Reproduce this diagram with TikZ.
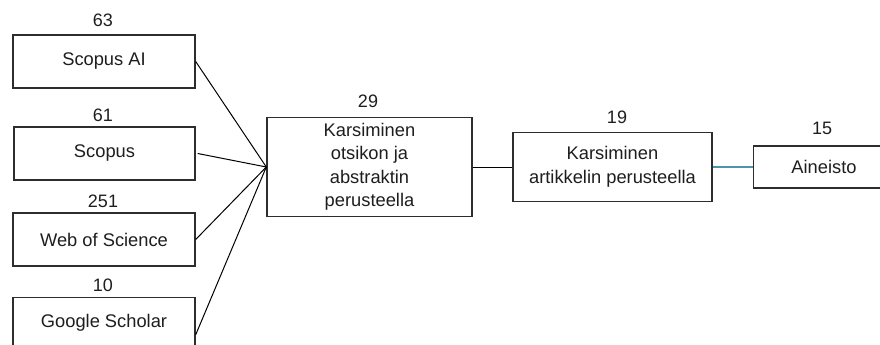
\documentclass[tikz,border=0pt]{standalone}
\usepackage{fontspec}
\setmainfont{Liberation Sans}
\definecolor{boxline}{RGB}{45,45,45}
\definecolor{tealline}{RGB}{78,146,176}
\definecolor{txt}{RGB}{30,30,30}
\begin{document}
\begin{tikzpicture}[x=1pt,y=-1pt,
  box/.style={draw=boxline,line width=1.4pt,fill=white,inner sep=0pt,align=center,text=txt,font=\fontsize{18.3}{23.5}\selectfont},
  lbl/.style={text=txt,font=\fontsize{18.3}{23.5}\selectfont,inner sep=0pt},
  num/.style={text=txt,font=\fontsize{18}{20}\selectfont,inner sep=0pt},
  conn/.style={draw=black,line width=1pt}]
\useasboundingbox (0,0) rectangle (880,345);
\clip (0,0) rectangle (880,345);
% source boxes
\node[box,minimum width=182pt,minimum height=53pt] (sai) at (104,61.5) {Scopus AI};
\node[box,minimum width=181pt,minimum height=53pt] (sco) at (104.5,153.5) {Scopus};
\node[box,minimum width=182pt,minimum height=53pt] (wos) at (104,239.5) {Web of Science};
\node[box,minimum width=182pt,minimum height=56pt,anchor=north] (gs) at (104,297) {};
\node[lbl] (gst) at (104,323) {Google Scholar};
% counts
\node[num] (n63) at (103,20) {63};
\node[num] (n61) at (103,115) {61};
\node[num] (n251) at (103,201) {251};
\node[num] (n10) at (103,285) {10};
% middle boxes
\node[box,minimum width=205pt,minimum height=99pt] (kar1) at (369.5,167) {Karsiminen\\otsikon ja\\abstraktin\\perusteella};
\node[num] (n29) at (368,101) {29};
\node[box,minimum width=199pt,minimum height=69pt] (kar2) at (612.5,167) {Karsiminen\\artikkelin perusteella};
\node[num] (n19) at (617,117) {19};
\node[box,minimum width=150pt,minimum height=42pt,anchor=west] (ain) at (753,167) {};
\node[lbl] (aint) at (824,167) {Aineisto};
\node[num] (n15) at (822,128) {15};
% connectors
\coordinate (hub) at (kar1.west);
\draw[conn] (sai.east) -- (hub);
\draw[conn] ([xshift=2pt]sco.east) -- (hub);
\draw[conn] (wos.east) -- (hub);
\draw[conn] ([yshift=-9pt]gs.east) -- (hub);
\draw[conn] (kar1.east) -- (kar2.west);
\draw[draw=tealline,line width=1.2pt] (kar2.east) -- (ain.west);
\end{tikzpicture}
\end{document}
